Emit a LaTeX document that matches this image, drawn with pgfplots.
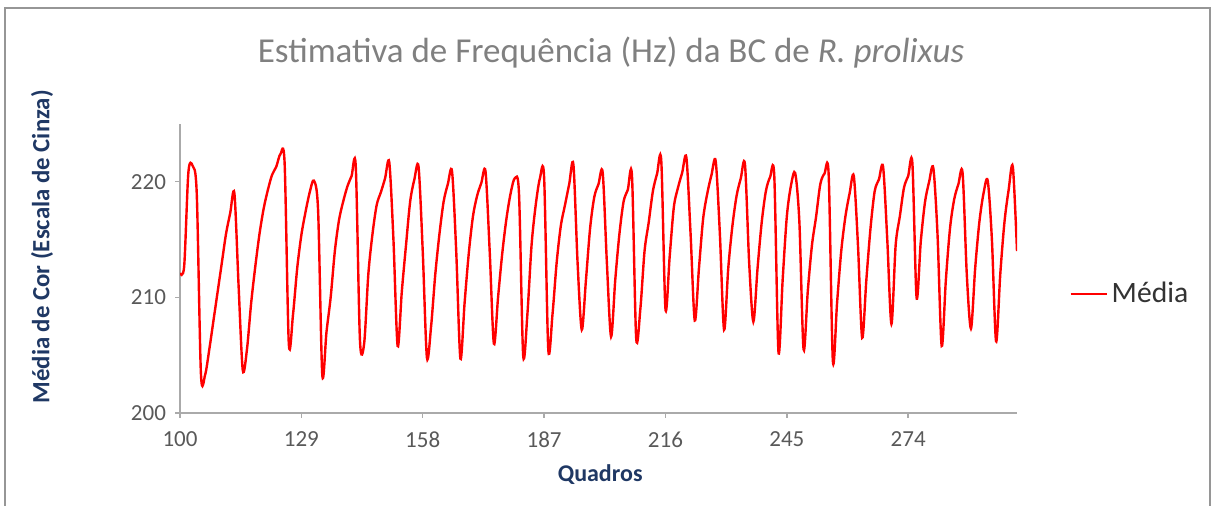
\documentclass[border=0pt]{standalone}
\usepackage{pgfplots}
\pgfplotsset{compat=1.18}
\usepackage{pgfplotstable}
\usepackage{fontspec}
\setmainfont{Carlito}
\definecolor{titlegray}{RGB}{128,128,128}
\definecolor{tickgray}{RGB}{89,89,89}
\definecolor{axisgray}{RGB}{170,170,170}
\definecolor{navy}{RGB}{31,56,100}
\definecolor{bordergray}{RGB}{150,150,150}

\pgfplotstableread{
x y
100 212.1
101 212.7
102 220.8
103 221.4
104 219.0
105 203.4
106 203.3
107 205.5
108 208.0
109 210.5
110 213.0
111 215.5
112 217.3
113 219.0
114 211.0
115 203.7
116 205.5
117 209.5
118 212.7
119 215.5
120 217.7
121 219.3
122 220.6
123 221.3
124 222.4
125 221.6
126 206.0
127 208.5
128 212.5
129 215.4
130 217.4
131 219.1
132 220.1
133 217.5
134 203.3
135 207.0
136 210.0
137 214.0
138 216.7
139 218.3
140 219.6
141 220.5
142 221.3
143 206.3
144 206.0
145 212.0
146 215.5
147 218.0
148 219.1
149 220.3
150 221.7
151 215.0
152 205.8
153 210.5
154 214.5
155 218.3
156 220.2
157 221.3
158 214.0
159 204.8
160 207.5
161 212.0
162 215.5
163 218.3
164 219.8
165 220.9
166 214.0
167 204.7
168 209.5
169 213.8
170 217.0
171 218.8
172 219.9
173 220.9
174 214.0
175 206.0
176 210.0
177 213.8
178 216.8
179 219.0
180 220.3
181 219.0
182 205.0
183 208.5
184 214.5
185 218.0
186 220.3
187 220.4
188 205.5
189 208.5
190 213.0
191 216.2
192 218.0
193 219.8
194 221.5
195 213.0
196 207.2
197 211.5
198 216.0
199 218.7
200 219.8
201 220.8
202 213.0
203 206.6
204 211.5
205 215.5
206 218.3
207 219.3
208 220.5
209 206.5
210 209.0
211 214.0
212 216.5
213 219.2
214 220.7
215 221.8
216 209.0
217 213.5
218 217.8
219 219.5
220 220.8
221 222.1
222 215.5
223 208.0
224 212.5
225 216.8
226 219.0
227 220.6
228 221.8
229 215.5
230 207.2
231 212.5
232 216.2
233 218.8
234 220.3
235 221.5
236 213.0
237 207.9
238 212.5
239 216.5
240 219.2
241 220.4
242 220.5
243 205.3
244 211.5
245 217.0
246 219.7
247 220.75
248 216.5
249 205.5
250 210.5
251 214.5
252 217.0
253 219.8
254 220.7
255 220.6
256 204.5
257 209.5
258 214.0
259 217.0
260 219.0
261 220.5
262 214.5
263 206.5
264 211.5
265 216.0
266 219.2
267 220.2
268 221.3
269 215.0
270 207.7
271 214.5
272 217.0
273 219.5
274 220.5
275 221.6
276 210.0
277 214.8
278 218.2
279 220.0
280 221.2
281 215.5
282 205.8
283 211.5
284 216.0
285 218.5
286 219.8
287 220.75
288 212.0
289 207.3
290 212.5
291 216.5
292 219.0
293 220.1
294 215.0
295 206.2
296 212.0
297 216.5
298 219.3
299 221.3
300 214.0
}\datatable

\begin{document}
\begin{tikzpicture}
\path[use as bounding box] (0,0) rectangle (607.5pt,253pt);
\draw[bordergray, line width=0.7pt] (2.5pt,-5pt) -- (2.5pt,249pt) -- (605pt,249pt) -- (605pt,-5pt);
\begin{axis}[
  at={(90pt,46.5pt)}, anchor=south west,
  scale only axis, width=418.5pt, height=144.5pt,
  xmin=100, xmax=300, ymin=200, ymax=225,
  xtick={100,129,158,187,216,245,274},
  ytick={200,210,220},
  axis x line=bottom, axis y line=left,
  axis line style={-, draw=axisgray, line width=0.7pt},
  tick align=outside,
  major tick length=2.5pt,
  tick style={draw=axisgray, line width=0.7pt},
  /pgf/number format/assume math mode=true,
  xticklabel style={font=\fontsize{11.5pt}{13pt}\selectfont, text=tickgray, yshift=-3.5pt},
  yticklabel style={font=\fontsize{11.5pt}{13pt}\selectfont, text=tickgray, xshift=-1pt},
  scaled ticks=false,
  xticklabel={\pgfmathprintnumber[fixed,precision=0]{\tick}},
  title={Estimativa de Frequência (Hz) da BC de \textit{R. prolixus}},
  title style={at={(axis description cs:0.515,1.207)}, anchor=center,
    font=\fontsize{17.5pt}{20pt}\selectfont, text=titlegray},
  xlabel={Quadros},
  xlabel style={at={(axis description cs:0.502,-0.212)}, anchor=center,
    font=\bfseries\fontsize{12pt}{14pt}\selectfont, text=navy},
  ylabel={Média de Cor (Escala de Cinza)},
  ylabel style={at={(axis description cs:-0.1649,0.575)}, anchor=center,
    font=\bfseries\fontsize{12.4pt}{14pt}\selectfont, text=navy},
  legend style={at={(axis description cs:1.0620,0.412)}, anchor=west,
    draw=none, fill=none, inner sep=0pt,
    font=\fontsize{14.8pt}{16pt}\selectfont, text=black!80},
  legend cell align=left,
  legend image code/.code={\draw[#1] (0pt,0pt) -- (18pt,0pt);},
]
\addplot[red, line width=1.2pt, smooth, mark=none] table[x=x, y=y] {\datatable};
\addlegendentry{Média}
\end{axis}
\end{tikzpicture}
\end{document}
